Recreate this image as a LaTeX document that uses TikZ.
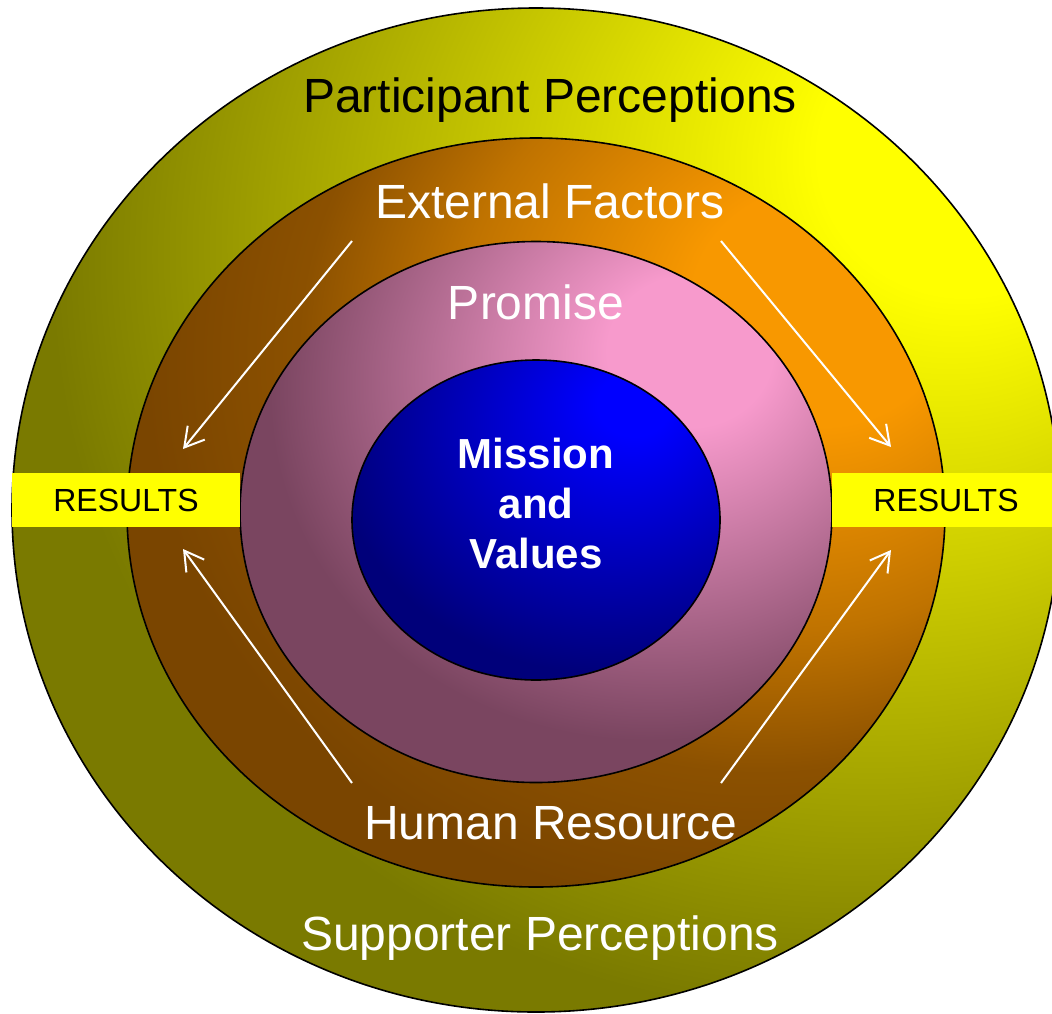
\documentclass[tikz,border=0pt]{standalone}
\usepackage{fontspec}
\setmainfont{Liberation Sans}
\usepackage{tikz}
\usetikzlibrary{arrows.meta}
\usetikzlibrary{shapes.geometric}

\definecolor{yelHi}{HTML}{FFFF00}
\definecolor{yelLo}{HTML}{7A7A00}
\definecolor{orgHi}{HTML}{F89800}
\definecolor{orgLo}{HTML}{7A4500}
\definecolor{pinkHi}{HTML}{F79ACC}
\definecolor{pinkLo}{HTML}{7A4560}
\definecolor{blueHi}{HTML}{0000FF}
\definecolor{blueLo}{HTML}{00007A}

\pgfdeclareradialshading{perception shade}{\pgfpoint{22bp}{19bp}}{color(0bp)=(yelHi); color(7bp)=(yelHi); color(37bp)=(yelLo); color(100bp)=(yelLo)}
\pgfdeclareradialshading{factor shade}{\pgfpoint{19bp}{15bp}}{color(0bp)=(orgHi); color(8bp)=(orgHi); color(20bp)=(orgHi!55!orgLo); color(28bp)=(orgHi!14!orgLo); color(36bp)=(orgLo); color(100bp)=(orgLo)}
\pgfdeclareradialshading{promise shade}{\pgfpoint{14bp}{16bp}}{color(0bp)=(pinkHi); color(7bp)=(pinkHi); color(32bp)=(pinkLo); color(100bp)=(pinkLo)}
\pgfdeclareradialshading{mission shade}{\pgfpoint{14bp}{19bp}}{color(0bp)=(blueHi); color(5bp)=(blueHi); color(36bp)=(blueLo); color(100bp)=(blueLo)}

\begin{document}
\begin{tikzpicture}[x=1pt,y=-1pt,
	ring node/.style={ellipse,draw,line width=1.6pt,inner sep=0pt},
	ring text/.style={anchor=base,font=\fontsize{48}{56}\selectfont},
	result node/.style={fill=yelHi,minimum width=228pt,minimum height=54pt,inner sep=0pt,font=\fontsize{32}{36}\selectfont},
	flow/.style={white,line width=2pt,-{Straight Barb[length=19pt,width=22pt]}}]

	\clip (0,0) rectangle (1052,1013);

	\node[ring node,shading=perception shade,minimum width=1048pt,minimum height=1004pt] (P) at (536,510) {};
	\node[ring node,shading=factor shade,minimum width=818pt,minimum height=749pt] (F) at (536,512.5) {};
	\node[ring node,shading=promise shade,minimum width=592pt,minimum height=541pt] (Pr) at (536,512) {};
	\node[ring node,shading=mission shade,minimum width=368pt,minimum height=320pt] (M) at (536,520) {};

	\node[ring text] (pp) at (550,112) {Participant Perceptions};
	\node[ring text,white] (ef) at (550,218) {External Factors};
	\node[ring text,white] (pm) at (536,319) {Promise};
	\node[ring text,white] (hr) at (551,839) {Human Resource};
	\node[ring text,white] (sp) at (540,950) {Supporter Perceptions};
	\node[white,align=center,font=\fontsize{42}{50}\selectfont\bfseries] (mv) at (536,503) {Mission\\and\\Values};

	\node[result node] (rl) at (126,500) {RESULTS};
	\node[result node] (rr) at (946,500) {RESULTS};

	\coordinate (efl) at (352,241);
	\coordinate (efr) at (721,241);
	\coordinate (hrl) at (352,783);
	\coordinate (hrr) at (721,783);
	\coordinate (rlt) at (183,449);
	\coordinate (rrt) at (891,447);
	\coordinate (rlb) at (183,549);
	\coordinate (rrb) at (891,550);

	\path[flow] (efl) edge (rlt)
		(efr) edge (rrt)
		(hrl) edge (rlb)
		(hrr) edge (rrb);

\end{tikzpicture}
\end{document}
